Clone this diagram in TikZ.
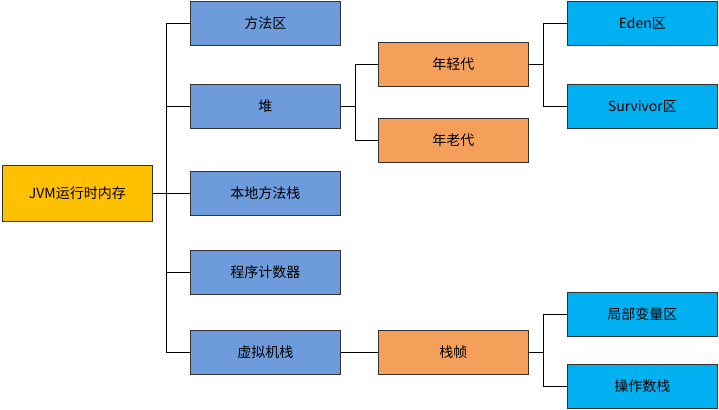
\documentclass[tikz,border=0pt]{standalone}
\usepackage{fontspec}
\newfontfamily\cjk{Noto Sans CJK SC}
\begin{document}
\begin{tikzpicture}[x=1pt,y=-1pt,
  box/.style={draw=black!80,line width=0.8pt,anchor=north west,minimum width=150pt,minimum height=44pt,font=\cjk\fontsize{14}{16}\selectfont,inner sep=0pt},
  rootc/.style={box,fill={rgb,255:red,255;green,192;blue,0}},
  bluec/.style={box,fill={rgb,255:red,109;green,155;blue,220}},
  orc/.style={box,fill={rgb,255:red,245;green,160;blue,90}},
  cyc/.style={box,fill={rgb,255:red,0;green,176;blue,240}},
  ln/.style={draw=black,line width=0.7pt}]
\useasboundingbox (0,0) rectangle (719,409);
\node[rootc,minimum height=56pt] (root) at (2,165) {JVM运行时内存};
\node[bluec] (b1) at (190,1) {方法区};
\node[bluec] (b2) at (190,84) {堆};
\node[bluec] (b3) at (190,171) {本地方法栈};
\node[bluec] (b4) at (190,250) {程序计数器};
\node[bluec] (b5) at (190,330) {虚拟机栈};
\node[orc] (o1) at (378,42) {年轻代};
\node[orc] (o2) at (378,118) {年老代};
\node[orc] (o3) at (378,330) {栈帧};
\node[cyc] (c1) at (567,1) {Eden区};
\node[cyc] (c2) at (567,84) {Survivor区};
\node[cyc] (c3) at (567,292) {局部变量区};
\node[cyc] (c4) at (567,364) {操作数栈};
\coordinate (j1) at (166,0);
\draw[ln] (root.east) -- (root.east -| j1);
\foreach \t in {b1,b2,b3,b4,b5} \draw[ln] (\t.west) -| (j1 |- root.east);
\coordinate (j2) at (355,0);
\foreach \t in {o1,o2} \draw[ln] (b2.east) -| (j2 |- \t.west) -- (\t.west);
\coordinate (j3) at (543,0);
\foreach \t in {c1,c2} \draw[ln] (o1.east) -| (j3 |- \t.west) -- (\t.west);
\draw[ln] (b5.east) -- (o3.west);
\foreach \t in {c3,c4} \draw[ln] (o3.east) -| (j3 |- \t.west) -- (\t.west);
\end{tikzpicture}
\end{document}
